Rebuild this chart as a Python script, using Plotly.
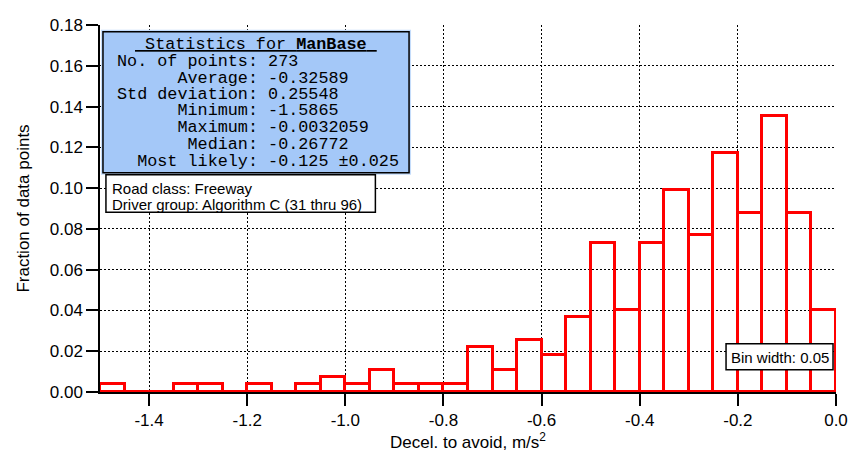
import plotly.graph_objects as go

# histogram of "Decel. to avoid" (bin width 0.05), fraction of 273 points
bin_left = [-1.50, -1.45, -1.40, -1.35, -1.30, -1.25, -1.20, -1.15, -1.10, -1.05,
            -1.00, -0.95, -0.90, -0.85, -0.80, -0.75, -0.70, -0.65, -0.60, -0.55,
            -0.50, -0.45, -0.40, -0.35, -0.30, -0.25, -0.20, -0.15, -0.10, -0.05]
fraction = [0.0037, 0.0, 0.0, 0.0037, 0.0037, 0.0, 0.0037, 0.0, 0.0037, 0.0073,
            0.0037, 0.0110, 0.0037, 0.0037, 0.0037, 0.0220, 0.0110, 0.0256, 0.0183, 0.0366,
            0.0733, 0.0403, 0.0733, 0.0989, 0.0769, 0.1172, 0.0879, 0.1355, 0.0879, 0.0403]
bin_width = 0.05

x_tick_vals = [-1.4, -1.2, -1.0, -0.8, -0.6, -0.4, -0.2, 0.0]
x_tick_text = ["-1.4", "-1.2", "-1.0", "-0.8", "-0.6", "-0.4", "-0.2", "0.0"]
y_tick_vals = [0.00, 0.02, 0.04, 0.06, 0.08, 0.10, 0.12, 0.14, 0.16, 0.18]

stats_labels = ["No. of points", "Average", "Std deviation", "Minimum",
                "Maximum", "Median", "Most likely"]
stats_values = ["273", "-0.32589", "0.25548", "-1.5865",
                "-0.0032059", "-0.26772", "-0.125 \u00b10.025"]
info_lines = ["Road class: Freeway", "Driver group: Algorithm C (31 thru 96)"]

W, H = 856, 454
L, R, T, B = 100, 13, 16, 58
BODY = 8  # the page body adds an 8px margin around the graph div
SANS = "Liberation Sans, Arial, sans-serif"
MONO = "Liberation Mono, Courier New, monospace"
RED = "#ff0000"


def px(x):
    return (x - L) / (W - L - R)


def py(y):
    return (H - B - y) / (H - T - B)


fig = go.Figure()
fig.add_trace(go.Bar(
    x=bin_left, y=fraction, width=bin_width, offset=0,
    marker=dict(color="rgba(0,0,0,0)", line=dict(color=RED, width=3)),
    showlegend=False, hoverinfo="x+y"))
# bottom edge of the empty bins
fig.add_trace(go.Scatter(
    x=[bin_left[0], bin_left[-1] + bin_width], y=[0, 0], mode="lines",
    line=dict(color=RED, width=3), showlegend=False, hoverinfo="skip"))

shapes = [
    dict(type="rect", xref="paper", yref="paper", x0=px(101), x1=px(414),
         y0=py(171), y1=py(21), fillcolor="#c4dcfb", line=dict(width=0)),
    dict(type="rect", xref="paper", yref="paper", x0=px(103), x1=px(412),
         y0=py(169), y1=py(23), fillcolor="#a4c8f8",
         line=dict(color="black", width=1.5)),
    dict(type="rect", xref="paper", yref="paper", x0=px(106), x1=px(378),
         y0=py(210), y1=py(171), fillcolor="white",
         line=dict(color="black", width=1.5)),
    dict(type="rect", xref="paper", yref="paper", x0=px(732), x1=px(840),
         y0=py(373), y1=py(346), fillcolor="white",
         line=dict(color="black", width=1.5)),
]

ann = []
ann.append(dict(text="<u>\u00a0Statistics for <b>ManBase</b>\u00a0</u>",
                x=px(257.5), y=py(36.5), xanchor="center", yanchor="middle"))
line_y = [54.3, 71, 87.7, 104.3, 121.7, 139.5, 157.5]
for lab, val, yy in zip(stats_labels, stats_values, line_y):
    txt = "\u00a0" * (14 - len(lab) - 1) + lab + ": " + val
    txt = txt.replace(" ", "\u00a0")
    ann.append(dict(text=txt, x=px(115.5), y=py(yy), xanchor="left",
                    yanchor="middle"))
for a in ann:
    a.update(xref="paper", yref="paper", showarrow=False,
             font=dict(family=MONO, size=16.8, color="black"))

for txt, yy in zip(info_lines, [185, 201.7]):
    ann.append(dict(text=txt, x=px(110), y=py(yy), xref="paper", yref="paper",
                    xanchor="left", yanchor="middle", showarrow=False,
                    font=dict(family=SANS, size=15, color="black")))
ann.append(dict(text="Bin width: 0.05", x=px(786), y=py(360), xref="paper",
                yref="paper", xanchor="center", yanchor="middle", showarrow=False,
                font=dict(family=SANS, size=15, color="black")))

fig.update_layout(
    width=W - BODY, height=H - BODY,
    margin=dict(l=L - BODY, r=R, t=T - BODY, b=B, pad=0),
    plot_bgcolor="white", paper_bgcolor="white",
    font=dict(family=SANS, size=17, color="black"),
    shapes=shapes, annotations=ann,
    bargap=0,
)
fig.update_xaxes(
    range=[-1.5, 0.0], tickvals=x_tick_vals, ticktext=x_tick_text,
    ticks="outside", ticklen=12, tickwidth=1.5, tickcolor="black",
    showline=True, linecolor="black", linewidth=1.5,
    showgrid=True, gridcolor="black", gridwidth=1, griddash="2px,2px",
    zeroline=False, ticklabeloverflow="allow",
    title=dict(text="Decel. to avoid, m/s<sup>2</sup>", standoff=4,
               font=dict(size=17)),
)
fig.update_yaxes(
    range=[0, 0.18], tickvals=y_tick_vals, tickformat=".2f",
    ticks="outside", ticklen=12, tickwidth=1.5, tickcolor="black",
    showline=True, linecolor="black", linewidth=1.5,
    showgrid=True, gridcolor="black", gridwidth=1, griddash="2px,2px",
    zeroline=False, ticklabeloverflow="allow",
    title=dict(text="Fraction of data points", standoff=16, font=dict(size=17)),
)

fig.write_html("out.html")
